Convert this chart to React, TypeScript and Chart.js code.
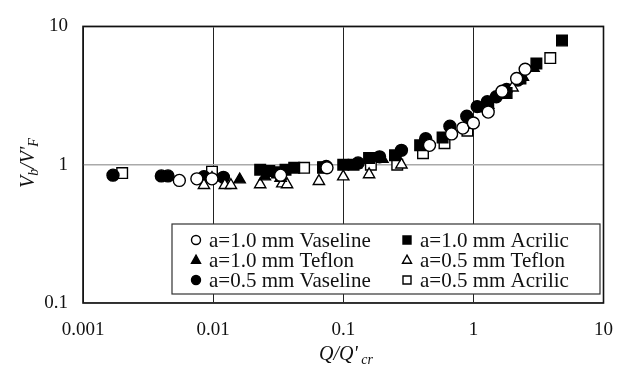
import React, { useEffect, useRef } from "react";
import { Chart, registerables } from "chart.js";

Chart.register(...registerables);

const xTickValues = [0.001, 0.01, 0.1, 1, 10];
const xTickLabels = ["0.001", "0.01", "0.1", "1", "10"];
const yTickValues = [0.1, 1, 10];
const yTickLabels = ["0.1", "1", "10"];

const seriesLabels = [
  "a=1.0 mm Vaseline",
  "a=1.0 mm Acrilic",
  "a=1.0 mm Teflon",
  "a=0.5 mm Teflon",
  "a=0.5 mm Vaseline",
  "a=0.5 mm Acrilic",
];

const vas10X = [0.0055, 0.0075, 0.0098, 0.033, 0.075, 0.46, 0.68, 0.83, 1.0, 1.3, 1.66, 2.15, 2.5];
const vas10Y = [0.77, 0.79, 0.79, 0.84, 0.95, 1.38, 1.67, 1.84, 2.0, 2.4, 3.4, 4.2, 4.9];

const acr10X = [0.023, 0.027, 0.031, 0.036, 0.042, 0.07, 0.1, 0.12, 0.158, 0.25, 0.39, 0.58, 0.93, 1.3, 1.8, 2.3, 3.05, 4.8];
const acr10Y = [0.92, 0.9, 0.88, 0.92, 0.95, 0.96, 1.0, 1.0, 1.12, 1.17, 1.38, 1.57, 2.0, 2.7, 3.3, 4.2, 5.4, 7.9];

const tef10X = [0.0098, 0.016, 0.025, 0.033, 0.125, 0.2, 1.2, 1.7, 2.4, 2.9];
const tef10Y = [0.8, 0.78, 0.82, 0.8, 1.0, 1.1, 2.55, 3.2, 4.3, 5.0];

const tef05X = [0.0085, 0.0123, 0.0137, 0.023, 0.034, 0.037, 0.065, 0.1, 0.158, 0.28, 1.3, 2.0];
const tef05Y = [0.71, 0.71, 0.71, 0.72, 0.73, 0.72, 0.76, 0.82, 0.85, 1.0, 2.7, 3.6];

const vas05X = [0.0017, 0.004, 0.0045, 0.0085, 0.012, 0.074, 0.13, 0.19, 0.28, 0.43, 0.66, 0.89, 1.07, 1.28, 1.5, 1.8, 2.2];
const vas05Y = [0.84, 0.83, 0.83, 0.82, 0.81, 0.97, 1.03, 1.14, 1.27, 1.54, 1.9, 2.24, 2.63, 2.85, 3.1, 3.5, 4.1];

const acr05X = [0.002, 0.0098, 0.05, 0.07, 0.163, 0.26, 0.41, 0.6, 0.9, 3.9];
const acr05Y = [0.87, 0.89, 0.95, 0.95, 1.0, 1.0, 1.21, 1.43, 1.76, 5.9];

const pts = (xs: number[], ys: number[]) => xs.map((x, i) => ({ x, y: ys[i] }));

const SERIF = "'Liberation Serif', 'Times New Roman', serif";

type Seg = { t: string; sub?: boolean };

function drawSegs(ctx: CanvasRenderingContext2D, segs: Seg[], cx: number, cy: number, size: number) {
  const main = `italic ${size}px ${SERIF}`;
  const small = `italic ${Math.round(size * 0.68)}px ${SERIF}`;
  let total = 0;
  for (const s of segs) {
    ctx.font = s.sub ? small : main;
    total += ctx.measureText(s.t).width;
  }
  let x = cx - total / 2;
  ctx.textBaseline = "alphabetic";
  ctx.textAlign = "left";
  for (const s of segs) {
    ctx.font = s.sub ? small : main;
    ctx.fillText(s.t, x, cy + (s.sub ? size * 0.22 : 0));
    x += ctx.measureText(s.t).width;
  }
}

function marker(ctx: CanvasRenderingContext2D, kind: string, filled: boolean, x: number, y: number, r: number) {
  ctx.beginPath();
  if (kind === "circle") {
    ctx.arc(x, y, r, 0, Math.PI * 2);
  } else if (kind === "rect") {
    ctx.rect(x - r, y - r, 2 * r, 2 * r);
  } else {
    const h = r * 1.8;
    ctx.moveTo(x, y - h * 0.6);
    ctx.lineTo(x + r, y + h * 0.4);
    ctx.lineTo(x - r, y + h * 0.4);
    ctx.closePath();
  }
  ctx.lineWidth = 1.4;
  ctx.strokeStyle = "#000";
  ctx.fillStyle = filled ? "#000" : "#fff";
  ctx.fill();
  ctx.stroke();
}

const decorPlugin = {
  id: "decor",
  beforeDatasetsDraw(chart: any) {
    const { ctx, chartArea: a } = chart;
    ctx.save();
    ctx.strokeStyle = "#111";
    ctx.lineWidth = 1.6;
    ctx.strokeRect(a.left, a.top, a.right - a.left, a.bottom - a.top);
    ctx.restore();
  },
  afterDatasetsDraw(chart: any) {
    const { ctx } = chart;
    ctx.save();
    const L = 172, T = 224, R = 600, B = 294;
    ctx.fillStyle = "#fff";
    ctx.fillRect(L, T, R - L, B - T);
    ctx.strokeStyle = "#333";
    ctx.lineWidth = 1.2;
    ctx.strokeRect(L, T, R - L, B - T);
    const entries = [
      { label: seriesLabels[0], kind: "circle", filled: false, col: 0, row: 0 },
      { label: seriesLabels[2], kind: "triangle", filled: true, col: 0, row: 1 },
      { label: seriesLabels[4], kind: "circle", filled: true, col: 0, row: 2 },
      { label: seriesLabels[1], kind: "rect", filled: true, col: 1, row: 0 },
      { label: seriesLabels[3], kind: "triangle", filled: false, col: 1, row: 1 },
      { label: seriesLabels[5], kind: "rect", filled: false, col: 1, row: 2 },
    ];
    const colMarker = [196, 407];
    const rows = [240, 260, 280];
    for (const e of entries) {
      const mx = colMarker[e.col];
      const my = rows[e.row];
      marker(ctx, e.kind, e.filled, mx, my, e.kind === "rect" ? 4 : 4.5);
      ctx.fillStyle = "#111";
      ctx.font = `21px ${SERIF}`;
      ctx.textAlign = "left";
      ctx.textBaseline = "middle";
      ctx.fillText(e.label, mx + 13, my + 1);
    }
    ctx.restore();
  },
  afterDraw(chart: any) {
    const { ctx } = chart;
    ctx.save();
    ctx.fillStyle = "#111";
    ctx.translate(34, 163);
    ctx.rotate(-Math.PI / 2);
    drawSegs(ctx, [{ t: "V" }, { t: "b", sub: true }, { t: "/V'" }, { t: "F", sub: true }], 0, 0, 20);
    ctx.restore();
    ctx.save();
    ctx.fillStyle = "#111";
    drawSegs(ctx, [{ t: "Q/Q'" }, { t: " cr", sub: true }], 346, 360, 20);
    ctx.restore();
  },
};

export default function App() {
  const ref = useRef<HTMLCanvasElement | null>(null);
  useEffect(() => {
    if (!ref.current) return;
    const mk = (i: number, data: any[], style: string, filled: boolean, r: number) => ({
      label: seriesLabels[i],
      data,
      pointStyle: style,
      pointRadius: r,
      pointBorderWidth: 1.4,
      borderColor: "#000",
      backgroundColor: filled ? "#000" : "#fff",
      pointBackgroundColor: filled ? "#000" : "#fff",
      pointBorderColor: "#000",
      showLine: false,
    });
    const chart = new Chart(ref.current, {
      type: "scatter",
      data: {
        datasets: [
          mk(0, pts(vas10X, vas10Y), "circle", false, 6),
          mk(1, pts(acr10X, acr10Y), "rect", true, 7.5),
          mk(2, pts(tef10X, tef10Y), "triangle", true, 6.5),
          mk(3, pts(tef05X, tef05Y), "triangle", false, 6.5),
          mk(4, pts(vas05X, vas05Y), "circle", true, 6),
          mk(5, pts(acr05X, acr05Y), "rect", false, 7.5),
        ],
      },
      options: {
        animation: false,
        responsive: true,
        maintainAspectRatio: false,
        layout: { padding: { left: 0, top: 17, right: 18, bottom: 0 } },
        plugins: { legend: { display: false }, tooltip: { enabled: false } },
        scales: {
          x: {
            type: "logarithmic",
            min: 0.001,
            max: 10,
            afterBuildTicks: (s: any) => {
              s.ticks = xTickValues.map((v) => ({ value: v }));
            },
            afterFit: (s: any) => {
              s.height = 68;
            },
            ticks: {
              callback: (_v: any, i: number) => xTickLabels[i],
              font: { family: SERIF, size: 19 },
              color: "#111",
              padding: 16,
              maxRotation: 0,
              autoSkip: false,
            },
            grid: { color: "#222", lineWidth: 1, drawTicks: false },
            border: { display: false },
          },
          y: {
            type: "logarithmic",
            min: 0.1,
            max: 10,
            afterBuildTicks: (s: any) => {
              s.ticks = yTickValues.map((v) => ({ value: v }));
            },
            afterFit: (s: any) => {
              s.width = 83;
            },
            ticks: {
              callback: (_v: any, i: number) => yTickLabels[i],
              font: { family: SERIF, size: 19 },
              color: "#111",
              padding: 15,
              autoSkip: false,
            },
            grid: { color: "#aaa", lineWidth: 1.5, drawTicks: false },
            border: { display: false },
          },
        },
      },
      plugins: [decorPlugin],
    });
    return () => chart.destroy();
  }, []);
  return (
    <div style={{ position: "fixed", left: 0, top: 0, width: 629, height: 371, background: "#fff" }}>
      <canvas ref={ref} />
    </div>
  );
}
